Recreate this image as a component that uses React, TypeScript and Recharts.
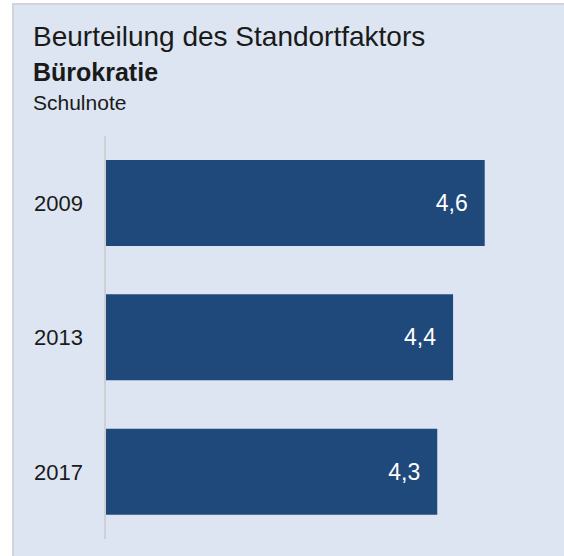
import React from 'react';
import { BarChart, Bar, XAxis, YAxis, LabelList } from 'recharts';

const years = ['2009', '2013', '2017'];
const grades = [4.6, 4.4, 4.3];

const colors = {
  panelBg: '#dce5f1',
  panelBorder: '#d2d4d7',
  bar: '#20497b',
  axisLine: '#cdd1d6',
  text: '#1a1a1a',
};

const font = '"Liberation Sans", Arial, sans-serif';

const chartData = years.map((year, i) => ({ year, grade: grades[i] }));

const App: React.FC = () => {
  return (
    <div style={{ position: 'absolute', left: 0, top: 0, width: 564, height: 556, background: '#ffffff', fontFamily: font }}>
      <div
        style={{
          position: 'absolute',
          left: 12,
          top: 3,
          width: 550,
          height: 551,
          background: colors.panelBg,
          borderLeft: `2px solid ${colors.panelBorder}`,
          borderTop: `2px solid ${colors.panelBorder}`,
        }}
      />
      <BarChart
        width={564}
        height={556}
        data={chartData}
        layout="vertical"
        margin={{ top: 136, right: 16, left: 0, bottom: 17 }}
        barSize={86}
        style={{ position: 'absolute', left: 0, top: 0 }}
      >
        <XAxis type="number" domain={[2.2, 5.0]} hide />
        <YAxis
          type="category"
          dataKey="year"
          width={105}
          tickLine={false}
          tickMargin={16}
          axisLine={{ stroke: colors.axisLine, strokeWidth: 2 }}
          tick={{ fill: colors.text, fontSize: 22, fontFamily: font }}
        />
        <Bar dataKey="grade" fill={colors.bar} isAnimationActive={false}>
          <LabelList
            dataKey="grade"
            position="insideRight"
            offset={17}
            fill="#ffffff"
            fontSize={23}
            fontFamily={font}
            formatter={(v: any) => String(v).replace('.', ',')}
          />
        </Bar>
      </BarChart>
      <div style={{ position: 'absolute', left: 33, top: 21, fontSize: 28, lineHeight: '32px', color: colors.text }}>
        Beurteilung des Standortfaktors
      </div>
      <div style={{ position: 'absolute', left: 33, top: 57, fontSize: 25, lineHeight: '30px', fontWeight: 'bold', color: colors.text }}>
        Bürokratie
      </div>
      <div style={{ position: 'absolute', left: 33, top: 90, fontSize: 21, lineHeight: '26px', color: colors.text }}>
        Schulnote
      </div>
    </div>
  );
};

export default App;
